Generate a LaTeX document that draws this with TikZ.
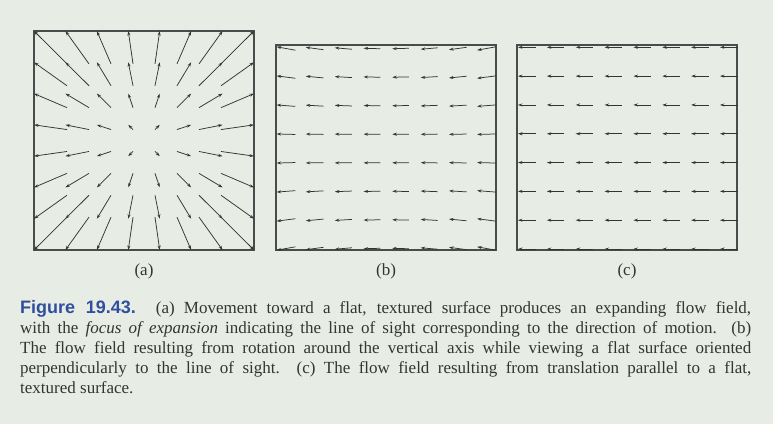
\documentclass[tikz,border=0pt]{standalone}
\usepackage{fontspec}
\setmainfont{Liberation Serif}
\newfontfamily\figsans{Liberation Sans}
\usetikzlibrary{arrows.meta}
\definecolor{pagebg}{RGB}{231,236,228}
\definecolor{figblue}{RGB}{48,78,158}
\definecolor{inkgray}{RGB}{52,52,52}
\definecolor{boxgray}{RGB}{75,75,75}
\begin{document}
\begin{tikzpicture}
	[x=1pt,y=-1pt,
	 flow arrow/.style={-{Stealth[length=4.5pt,width=3pt]},line width=0.75pt,color=#1},
	 flow arrow/.default=inkgray,
	 panel/.style={line width=1.3pt,draw=boxgray},
	 panel label/.style={font=\fontsize{17}{20}\selectfont,text=inkgray}]
	\fill[pagebg] (0,0) rectangle (773,424);
	\useasboundingbox (0,0) rectangle (773,424);
	\draw[panel] (34,31) rectangle (254,250);
	\draw[panel] (276,45) rectangle (496,250);
	\draw[panel] (517,45) rectangle (737,250);
	\foreach \i in {0,...,7}{
		\foreach \j in {0,...,7}{
			\pgfmathsetmacro\hx{34+\i*220/7}
			\pgfmathsetmacro\hy{31+\j*219/7}
			\draw[flow arrow] ({144+0.7*(\hx-144)},{140.5+0.7*(\hy-140.5)}) -- (\hx,\hy);
		}
	}
	\foreach \i in {0,...,7}{
		\foreach \j in {0,...,7}{
			\pgfmathsetmacro\cx{286+\i*200.5/7}
			\pgfmathsetmacro\cy{48.5+\j*200/7}
			\pgfmathsetmacro\du{(16.6+0.00021*(\cx-386.25)^2)/2}
			\pgfmathsetmacro\dv{0.00033*(\cx-386.25)*(\cy-148.5)/2}
			\draw[flow arrow] (\cx+\du,\cy+\dv) -- (\cx-\du,\cy-\dv);
		}
	}
	\foreach \i in {0,...,7}{
		\foreach \j in {0,...,7}{
			\pgfmathsetmacro\hx{518+\i*202/7}
			\pgfmathsetmacro\hy{47.3+\j*201.7/7}
			\draw[flow arrow] (\hx+17.5,\hy) -- (\hx,\hy);
		}
	}
	\node[panel label] (la) at (144,271) {(a)};
	\node[panel label] (lb) at (386,271) {(b)};
	\node[panel label] (lc) at (627,271) {(c)};
	\node[anchor=base west,inner sep=0pt,text width=731pt,align=justify,
		font=\fontsize{17}{20}\selectfont,text=inkgray] (caption) at (20,313)
		{{\figsans\bfseries\fontsize{18}{20}\selectfont\color{figblue}Figure 19.43.}\hspace*{20pt}(a) Movement toward a flat, textured surface produces an expanding flow field,\linebreak
		with the \emph{focus of expansion} indicating the line of sight corresponding to the direction of motion. (b)\linebreak
		The flow field resulting from rotation around the vertical axis while viewing a flat surface oriented\linebreak
		perpendicularly to the line of sight.\ \ (c) The flow field resulting from translation parallel to a flat,\linebreak
		textured surface.};
\end{tikzpicture}
\end{document}
